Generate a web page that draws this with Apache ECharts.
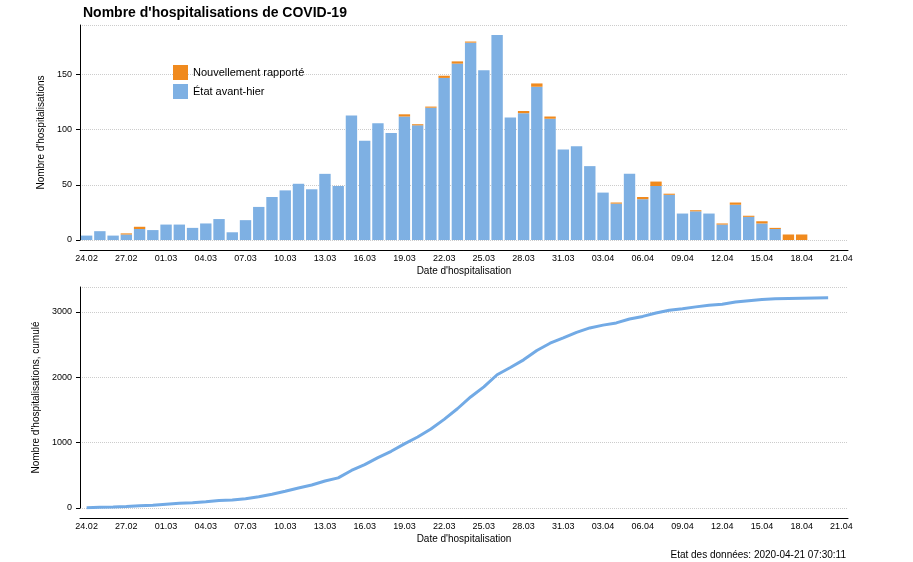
<!DOCTYPE html>
<html>
<head>
<meta charset="utf-8">
<script src="https://cdn.jsdelivr.net/npm/echarts@6/dist/echarts.min.js"></script>
<style>
  html, body { margin: 0; padding: 0; background: #fff; }
  #chart { width: 913px; height: 562px; }
</style>
</head>
<body>
<div id="chart"></div>
<script>
  // jours 24.02 -> 21.04
  var dates = [
    '24.02','25.02','26.02','27.02','28.02','29.02',
    '01.03','02.03','03.03','04.03','05.03','06.03','07.03','08.03','09.03','10.03',
    '11.03','12.03','13.03','14.03','15.03','16.03','17.03','18.03','19.03','20.03',
    '21.03','22.03','23.03','24.03','25.03','26.03','27.03','28.03','29.03','30.03','31.03',
    '01.04','02.04','03.04','04.04','05.04','06.04','07.04','08.04','09.04','10.04',
    '11.04','12.04','13.04','14.04','15.04','16.04','17.04','18.04','19.04','20.04','21.04'
  ];

  // état avant-hier (bleu)
  var etatAvantHier = [
    4, 8, 4, 5, 10, 9,
    14, 14, 11, 15, 19, 7, 18, 30, 39, 45,
    51, 46, 60, 49, 113, 90, 106, 97, 112, 104,
    120, 147, 160, 179, 154, 186, 111, 115, 139, 110, 82,
    85, 67, 43, 33, 60, 37, 49, 41, 24, 26,
    24, 14, 32, 21, 15, 10, 0, 0
  ];

  // nouvellement rapporté (orange)
  var nouveaux = [
    0, 0, 0, 1, 2, 0,
    0, 0, 0, 0, 0, 0, 0, 0, 0, 0,
    0, 0, 0, 0, 0, 0, 0, 0, 2, 1,
    1, 2, 2, 1, 0, 0, 0, 2, 3, 2, 0,
    0, 0, 0, 1, 0, 2, 4, 1, 0, 1,
    0, 1, 2, 1, 2, 1, 5, 5
  ];

  var cumul = [
    4, 12, 16, 22, 34, 43,
    57, 71, 82, 97, 116, 123, 141, 171, 210, 255,
    306, 352, 412, 461, 574, 664, 770, 867, 981, 1086,
    1207, 1356, 1518, 1698, 1852, 2038, 2149, 2266, 2408, 2520, 2602,
    2687, 2754, 2797, 2831, 2891, 2930, 2983, 3025, 3049, 3076,
    3100, 3115, 3149, 3171, 3188, 3199, 3204, 3209, 3212, 3215
  ];

  var txt = '#000';
  var base = { fontFamily: 'Liberation Sans, Arial, sans-serif' };

  function xAxe(idx) {
    return {
      type: 'category', gridIndex: idx, data: dates, offset: 10,
      axisLine: { onZero: false, lineStyle: { color: '#000' } },
      axisTick: { interval: 2, alignWithLabel: true, length: 4, lineStyle: { color: '#000' } },
      axisLabel: { interval: 2, color: txt, fontSize: 9, margin: 4 },
      name: "Date d'hospitalisation", nameLocation: 'middle', nameGap: 16,
      nameTextStyle: { color: txt, fontSize: 10 }
    };
  }
  function yAxe(idx, max, interval, name) {
    return {
      type: 'value', gridIndex: idx, min: 0, max: max, interval: interval,
      axisLine: { show: true, lineStyle: { color: '#000' } },
      axisTick: { show: true, length: 4, lineStyle: { color: '#000' } },
      axisLabel: { color: txt, fontSize: 9, showMaxLabel: false, formatter: function (v) { return String(v); } },
      splitLine: { lineStyle: { color: '#ccc', type: 'dotted' } },
      name: name, nameLocation: 'middle', nameGap: 30,
      nameTextStyle: { color: txt, fontSize: 10 }
    };
  }

  var chart = echarts.init(document.getElementById('chart'));
  chart.setOption({
    animation: false,
    textStyle: base,
    title: [
      { text: "Nombre d'hospitalisations de COVID-19", left: 78, top: 1,
        textStyle: { fontSize: 14, fontWeight: 'bold', color: '#000' } },
      { text: 'Etat des données: 2020-04-21 07:30:11', right: 62, top: 545,
        textStyle: { fontSize: 10, fontWeight: 'normal', color: '#000' } }
    ],
    legend: {
      orient: 'vertical', left: 168, top: 60, itemWidth: 15, itemHeight: 15, itemGap: 4,
      icon: 'rect', textStyle: { fontSize: 11, color: '#000' },
      data: ['Nouvellement rapporté', 'État avant-hier']
    },
    grid: [
      { left: 80, right: 65, top: 25, bottom: 322 },
      { left: 80, right: 65, top: 287, bottom: 54 }
    ],
    xAxis: [xAxe(0), xAxe(1)],
    yAxis: [
      yAxe(0, 195, 50, "Nombre d'hospitalisations"),
      yAxe(1, 3380, 1000, "Nombre d'hospitalisations, cumulé")
    ],
    series: [
      { name: 'État avant-hier', type: 'bar', stack: 'h', data: etatAvantHier,
        barCategoryGap: '14%', itemStyle: { color: '#7eb0e3' } },
      { name: 'Nouvellement rapporté', type: 'bar', stack: 'h', data: nouveaux,
        itemStyle: { color: '#f08a1e' } },
      { name: 'cumul', type: 'line', xAxisIndex: 1, yAxisIndex: 1, data: cumul,
        showSymbol: false, lineStyle: { color: '#72aae5', width: 3 } }
    ]
  });
</script>
</body>
</html>
